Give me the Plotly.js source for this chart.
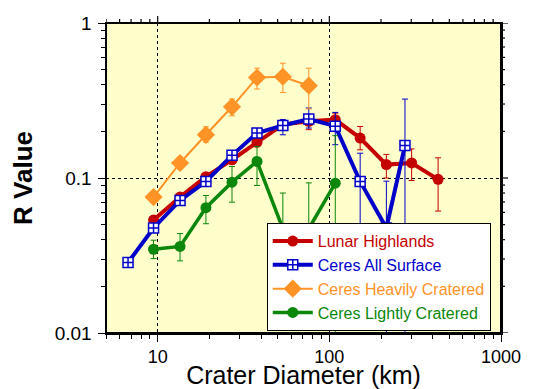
<!DOCTYPE html>
<html>
<head>
<meta charset="utf-8">
<script src="https://cdn.plot.ly/plotly-3.0.1.min.js"></script>
<style>html,body{margin:0;padding:0;background:#fff;}#chart{width:533px;height:389px;}</style>
</head>
<body>
<div id="chart"></div>
<script>
// Crater diameters (km)
const diamLunar = [9.46, 13.5, 19.1, 27.1, 37.9, 53.6, 75.9, 108.3, 151.2, 214.9, 301.6, 430];
const rLunar    = [0.0535, 0.0753, 0.102, 0.131, 0.170, 0.221, 0.232, 0.238, 0.181, 0.122, 0.125, 0.098];
const hiLunar   = [0.056, 0.079, 0.107, 0.138, 0.180, 0.234, 0.252, 0.262, 0.215, 0.142, 0.154, 0.135];
const loLunar   = [0.051, 0.072, 0.097, 0.124, 0.160, 0.208, 0.205, 0.215, 0.152, 0.100, 0.0964, 0.0612];

const diamAll = [6.72, 9.46, 13.5, 19.1, 27.1, 37.9, 53.6, 75.9, 108.3, 151.2, 214.9, 275.8];
const rAll    = [0.0285, 0.0476, 0.0717, 0.095, 0.140, 0.195, 0.218, 0.240, 0.216, 0.095, 0.0476, 0.162];
const hiAll   = [0.030, 0.050, 0.075, 0.099, 0.147, 0.206, 0.238, 0.283, 0.265, 0.1445, 0.0954, 0.323];
const loAll   = [0.027, 0.045, 0.068, 0.091, 0.133, 0.184, 0.190, 0.210, 0.164, 0.0476, 0.003, 0.003];

const diamHeavy = [9.46, 13.5, 19.1, 27.1, 37.9, 53.6, 75.9];
const rHeavy    = [0.0753, 0.125, 0.190, 0.288, 0.445, 0.450, 0.394];
const hiHeavy   = [0.079, 0.136, 0.214, 0.323, 0.511, 0.550, 0.511];
const loHeavy   = [0.072, 0.115, 0.170, 0.252, 0.375, 0.356, 0.279];

const diamLight = [9.46, 13.5, 19.1, 27.1, 37.9, 53.6, 75.9, 108.3];
const rLight    = [0.0347, 0.0362, 0.0643, 0.094, 0.128, 0.0471, 0.0471, 0.0926];
const hiLight   = [0.0397, 0.0438, 0.0771, 0.1186, 0.160, 0.080, 0.093, 0.1875];
const loLight   = [0.0302, 0.0292, 0.0507, 0.0699, 0.0895, 0.025, 0.025, 0.003];

const seriesNames = ['Lunar Highlands', 'Ceres All Surface', 'Ceres Heavily Cratered', 'Ceres Lightly Cratered'];

// tick labels and minor tick positions
const xTickVals = [10, 100, 1000];
const xTickText = ['10', '100', '1000'];
const xMinorVals = [5, 6, 7, 8, 9, 20, 30, 40, 50, 60, 70, 80, 90, 200, 300, 400, 500, 600, 700, 800, 900];
const yTickVals = [0.01, 0.1, 1];
const yTickText = ['0.01', '0.1', '1'];
const yMinorVals = [0.02, 0.03, 0.04, 0.05, 0.06, 0.07, 0.08, 0.09, 0.2, 0.3, 0.4, 0.5, 0.6, 0.7, 0.8, 0.9];

const RED = '#c40000', BLUE = '#0000c8', ORANGE = '#ff9326', GREEN = '#0b870b';

function errs(y, hi, lo, color) {
  return {
    type: 'data', symmetric: false,
    array: hi.map((h, i) => h - y[i]),
    arrayminus: lo.map((l, i) => y[i] - l),
    color: color, thickness: 1, width: 3
  };
}
function label(name, color) {
  return '<span style="color:' + color + '">' + name + '</span>';
}

const traces = [
  {
    x: diamLunar, y: rLunar, type: 'scatter', mode: 'lines+markers',
    name: label(seriesNames[0], RED),
    line: {color: RED, width: 4},
    marker: {symbol: 'circle', size: 11, color: RED},
    error_y: errs(rLunar, hiLunar, loLunar, RED)
  },
  {
    x: diamAll, y: rAll, type: 'scatter', mode: 'lines+markers',
    name: label(seriesNames[1], BLUE),
    line: {color: BLUE, width: 4},
    marker: {symbol: 'square-cross', size: 10, color: '#ffffff', line: {color: BLUE, width: 1.5}},
    error_y: errs(rAll, hiAll, loAll, BLUE)
  },
  {
    x: diamHeavy, y: rHeavy, type: 'scatter', mode: 'lines+markers',
    name: label(seriesNames[2], ORANGE),
    line: {color: ORANGE, width: 2},
    marker: {symbol: 'diamond', size: 14, color: ORANGE},
    error_y: errs(rHeavy, hiHeavy, loHeavy, ORANGE)
  },
  {
    x: diamLight, y: rLight, type: 'scatter', mode: 'lines+markers',
    name: label(seriesNames[3], GREEN),
    line: {color: GREEN, width: 3.5},
    marker: {symbol: 'circle', size: 11, color: GREEN},
    error_y: errs(rLight, hiLight, loLight, GREEN)
  }
];

const FONT = 'Liberation Sans, Arial, Helvetica, sans-serif';

function minorTicks(vals) {
  return {tickmode: 'array', tickvals: vals, ticks: 'outside', ticklen: 4, tickwidth: 1, tickcolor: '#000', showgrid: false};
}

const xRange = [Math.log10(5), 3];
const yRange = [-2, 0];
const PLOT_W = 395, PLOT_H = 310;

// frame plus top/right tick marks (axis decoration, taken from the tick arrays)
const shapes = [
  {type: 'rect', xref: 'paper', yref: 'paper', x0: 0, x1: 1, y0: 0, y1: 1,
   line: {color: '#000000', width: 2}, fillcolor: 'rgba(0,0,0,0)', layer: 'above'}
];
function topTick(v, len) {
  return {type: 'line', xref: 'x', yref: 'paper', x0: v, x1: v, y0: 1, y1: 1 + len / PLOT_H,
          line: {color: '#000000', width: 1.2}, layer: 'above'};
}
function rightTick(v, len) {
  return {type: 'line', xref: 'paper', yref: 'y', y0: v, y1: v, x0: 1, x1: 1 + len / PLOT_W,
          line: {color: '#000000', width: 1.2}, layer: 'above'};
}
xTickVals.filter(v => v < 1000).forEach(v => shapes.push(topTick(v, 7)));
xMinorVals.forEach(v => shapes.push(topTick(v, 4)));
yTickVals.forEach(v => shapes.push(rightTick(v, 7)));
yMinorVals.forEach(v => shapes.push(rightTick(v, 4)));

const layout = {
  width: 533, height: 389,
  margin: {l: 106, r: 32, t: 23, b: 56, pad: 0},
  paper_bgcolor: '#ffffff',
  plot_bgcolor: '#ffffcc',
  font: {family: FONT, color: '#000', size: 18},
  showlegend: true,
  legend: {
    x: 0.407, y: 0.006, xanchor: 'left', yanchor: 'bottom',
    bgcolor: '#ffffff', bordercolor: '#000', borderwidth: 1,
    font: {family: FONT, size: 16},
    itemwidth: 40, tracegroupgap: 0
  },
  shapes: shapes,
  xaxis: {
    type: 'log', range: xRange,
    tickmode: 'array', tickvals: xTickVals, ticktext: xTickText,
    ticks: 'outside', ticklen: 7, tickwidth: 1, tickcolor: '#000',
    ticklabelstandoff: 0,
    minor: minorTicks(xMinorVals),
    showline: true, linecolor: '#000', linewidth: 1.5, mirror: true,
    showgrid: true, gridcolor: '#000', gridwidth: 1, griddash: 'dot',
    zeroline: false,
    tickfont: {size: 18},
    title: {text: 'Crater Diameter (km)', font: {size: 25}, standoff: 3}
  },
  yaxis: {
    type: 'log', range: yRange,
    tickmode: 'array', tickvals: yTickVals, ticktext: yTickText,
    ticks: 'outside', ticklen: 7, tickwidth: 1, tickcolor: '#000',
    ticklabelstandoff: 2,
    minor: minorTicks(yMinorVals),
    showline: true, linecolor: '#000', linewidth: 1.5, mirror: true,
    showgrid: true, gridcolor: '#000', gridwidth: 1, griddash: 'dot',
    zeroline: false,
    tickfont: {size: 19},
    title: {text: '<b>R Value</b>', font: {size: 26}, standoff: 14}
  }
};

Plotly.newPlot('chart', traces, layout, {displayModeBar: false, staticPlot: true});
</script>
</body>
</html>
